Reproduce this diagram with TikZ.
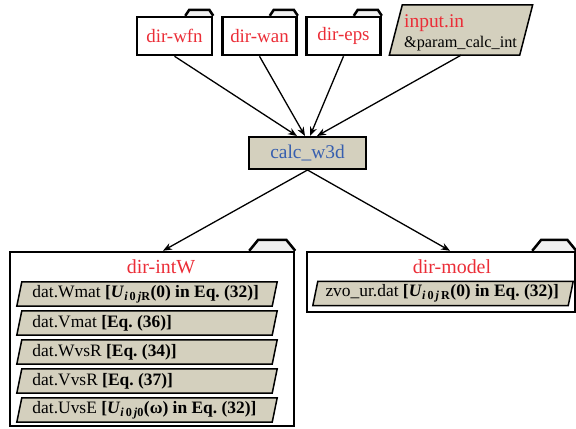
\documentclass[tikz,border=0pt]{standalone}
\usepackage{fontspec}
\setmainfont{Liberation Serif}
\usetikzlibrary{arrows.meta,backgrounds}
\definecolor{beige}{RGB}{212,208,190}
\definecolor{lblred}{RGB}{235,45,55}
\definecolor{lblblue}{RGB}{55,95,175}
\definecolor{tabgray}{RGB}{240,240,240}
\frenchspacing
\tikzset{
  folder/.style={draw=black, line width=2.5bp, inner sep=0pt},
  foldtab/.style={draw=black, line width=2.5bp, line join=miter},
  redlabel/.style={text=lblred, font=\fontsize{19}{20}\selectfont, inner sep=0pt},
  biglabel/.style={text=lblred, font=\fontsize{20}{22}\selectfont, inner sep=0pt},
  procbox/.style={draw=black, fill=beige, line width=2bp, minimum width=117bp, minimum height=32bp,
    text=lblblue, font=\fontsize{19.5}{21}\selectfont, inner sep=0pt},
  holder/.style={inner sep=0pt, draw=none},
  parashape/.style={draw=black, fill=beige, line width=1.5bp, line join=miter},
  itemtext/.style={font=\fontsize{17.5}{19}\selectfont, text=black, inner ysep=0pt,
    minimum height=24bp, minimum width=255bp},
  conn/.style={draw=black, line width=1.3bp, -{Stealth[length=9bp,width=7bp]}},
}
% folder tab: node, total width, height, slant
\newcommand{\foldertab}[4]{%
  \begin{pgfonlayer}{background}
    \fill[tabgray] ([xshift=-#2]#1.north east) -- ++(#4,#3) -- ([xshift=-#4,yshift=#3]#1.north east) -- (#1.north east) -- cycle;
  \end{pgfonlayer}
  \draw[foldtab] ([xshift=-#2]#1.north east) -- ++(#4,#3) -- ([xshift=-#4,yshift=#3]#1.north east) -- (#1.north east);
}
% parallelogram outline behind a node: node, half slant
\newcommand{\paraback}[2]{%
  \begin{pgfonlayer}{background}
    \draw[parashape] ([xshift=-#2]#1.south west) -- ([xshift=#2]#1.north west) -- ([xshift=#2]#1.north east) -- ([xshift=-#2]#1.south east) -- cycle;
  \end{pgfonlayer}
}
\newcommand{\Uij}[1]{\textit{U}\textsubscript{\textit{i}\,0\,\textit{j}#1}}
\newcommand{\itembox}[2]{\makebox[#1][l]{\raisebox{-1bp}{#2}}}
\begin{document}
\begin{tikzpicture}[x=1bp,y=-1bp]
\useasboundingbox (0,0) rectangle (576,428);

% top folders
\node[folder, redlabel, draw=black, minimum width=75bp, minimum height=38bp] (wfn) at (174.5,36) {dir-wfn};
\foldertab{wfn}{28bp}{6bp}{4bp}
\node[folder, redlabel, draw=black, minimum width=74bp, minimum height=38bp] (wan) at (259.5,36) {dir-wan};
\foldertab{wan}{28bp}{6bp}{4bp}
\node[folder, redlabel, draw=black, minimum width=74bp, minimum height=38bp] (eps) at (343.5,36) {dir-eps};
\foldertab{eps}{28bp}{6bp}{4bp}

% input file
\node[holder, minimum width=130bp, minimum height=50bp] (inp) at (461,30) {};
\paraback{inp}{6.5bp}
\node[anchor=base west, inner sep=0pt, text=lblred, font=\fontsize{19.5}{20}\selectfont] (inptitle) at (404,27) {input.in};
\node[anchor=base west, inner sep=0pt, font=\fontsize{16.3}{17}\selectfont] (inpparam) at (404,47) {\&param\_calc\_int};

% program
\node[procbox] (calc) at (307.5,153) {calc\_w3d};

% output folders
\node[folder, minimum width=284bp, minimum height=174bp] (intW) at (152,339) {};
\foldertab{intW}{46bp}{11bp}{9bp}
\node[biglabel] (intWlbl) at (161,267) {dir-intW};

\node[folder, minimum width=268bp, minimum height=60bp] (model) at (441,282) {};
\foldertab{model}{44bp}{11bp}{9bp}
\node[biglabel] (modellbl) at (452,267) {dir-model};

% items in dir-intW
\node[itemtext, inner xsep=13bp] (w1) at (147,294) {\itembox{229bp}{dat.Wmat \textbf{[\Uij{R}(0) in Eq. (32)]}}};
\paraback{w1}{2.5bp}
\node[itemtext, inner xsep=13bp] (w2) at (147,323) {\itembox{229bp}{dat.Vmat \textbf{[Eq. (36)]}}};
\paraback{w2}{2.5bp}
\node[itemtext, inner xsep=13bp] (w3) at (147,352) {\itembox{229bp}{dat.WvsR \textbf{[Eq. (34)]}}};
\paraback{w3}{2.5bp}
\node[itemtext, inner xsep=13bp] (w4) at (147,381) {\itembox{229bp}{dat.VvsR \textbf{[Eq. (37)]}}};
\paraback{w4}{2.5bp}
\node[itemtext, inner xsep=13bp] (w5) at (147,410) {\itembox{229bp}{dat.UvsE \textbf{[\Uij{0}(ω) in Eq. (32)]}}};
\paraback{w5}{2.5bp}

% item in dir-model
\node[itemtext, inner xsep=10bp] (m1) at (443,293.5) {\itembox{235bp}{zvo\_ur.dat \textbf{[\Uij{\,R}(0) in Eq. (32)]}}};
\paraback{m1}{2.5bp}

% connectors
\draw[conn] (wfn.south) -- ([xshift=-10.5bp]calc.north);
\draw[conn] (wan.south) -- ([xshift=-2.5bp]calc.north);
\draw[conn] (eps.south) -- ([xshift=2.5bp]calc.north);
\draw[conn] (inp.south) -- ([xshift=9.5bp]calc.north);
\draw[conn] (calc.south) -- ([xshift=11bp]intW.north);
\draw[conn] (calc.south) -- ([xshift=9bp]model.north);
\end{tikzpicture}
\end{document}
